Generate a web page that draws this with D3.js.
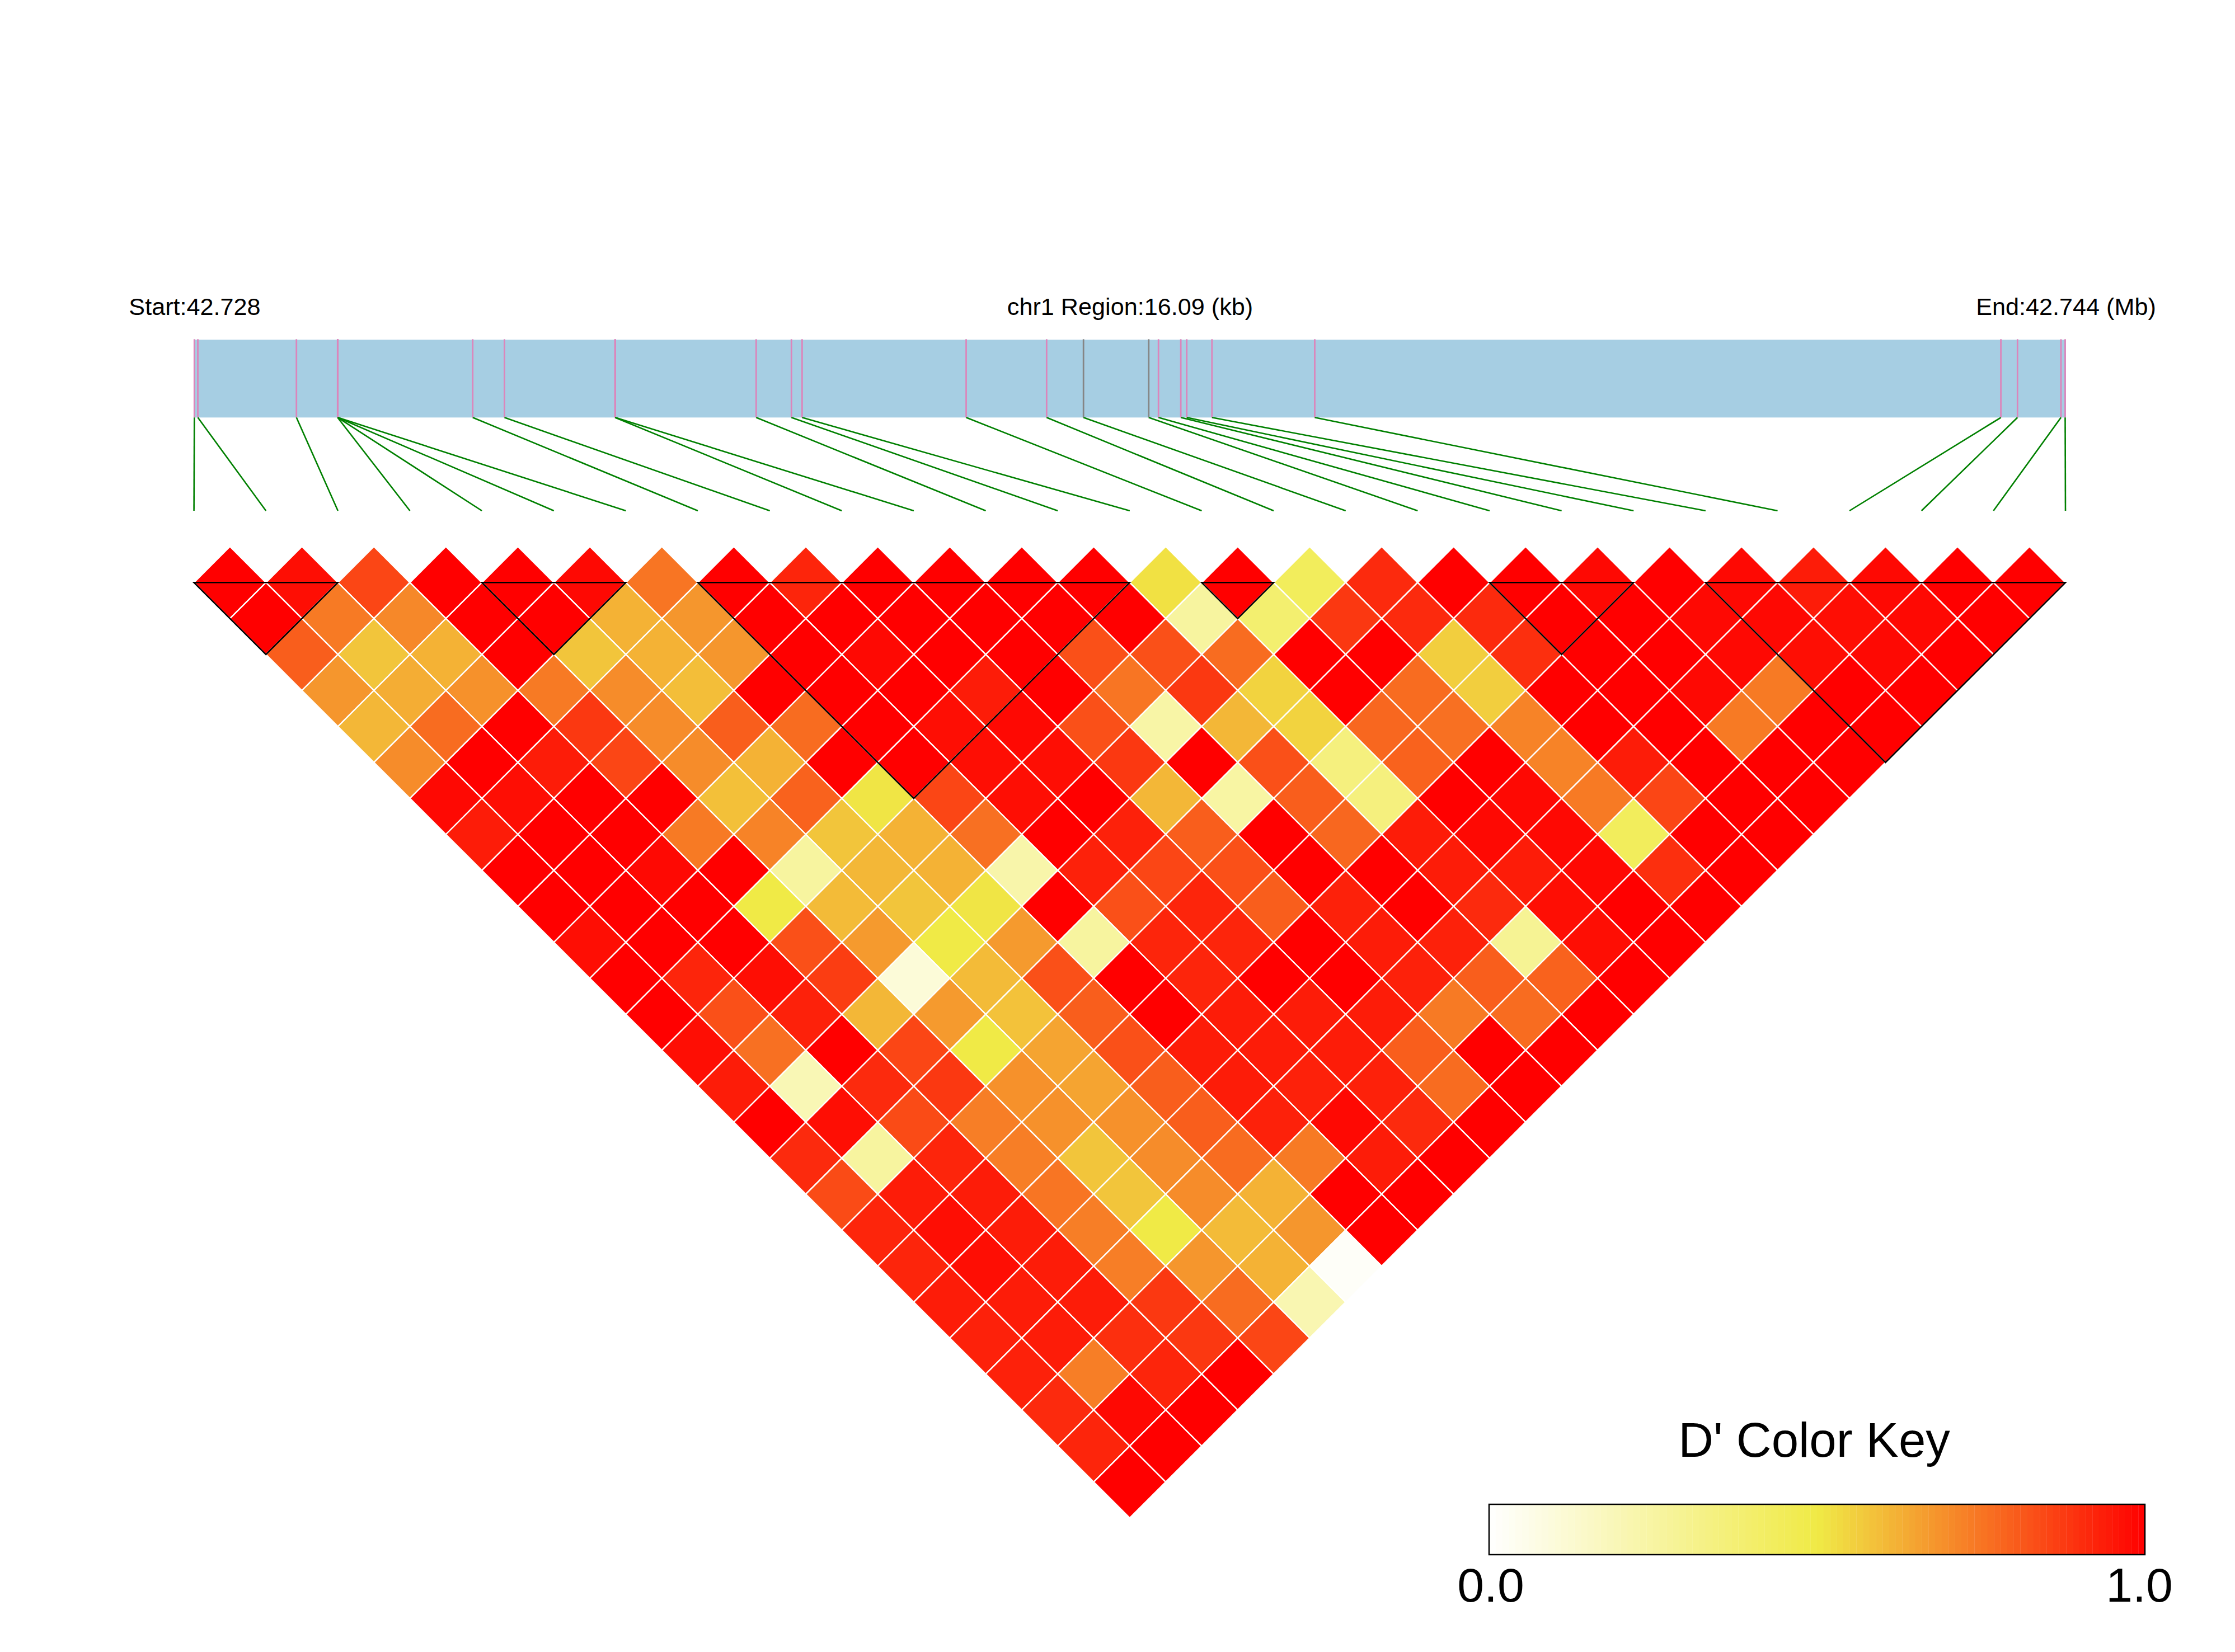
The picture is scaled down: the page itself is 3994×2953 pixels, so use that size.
<!DOCTYPE html>
<html><head><meta charset="utf-8">
<style>html,body{margin:0;padding:0;background:#fff}svg{display:block}text{font-family:"Liberation Sans",Arial,sans-serif;fill:#000}</style>
<script src="https://cdn.jsdelivr.net/npm/d3@7"></script>
</head><body><div id="chart"></div>
<script>
// SNP offsets in bp from region start
const snpPositions = [0,30,878,1232,1233,1233,1234,2394,2667,3618,3620,4832,5135,5227,6638,7330,7647,8208,8292,8484,8535,8752,9636,15537,15680,16054,16090];
const greySnps = [16,17];
const regionLength = 16090;
// LD blocks: first and last SNP index
const blockStart = [0,4,7,14,18,21];
const blockEnd   = [2,6,13,15,20,26];
// D' values by SNP distance (row01 = neighbouring SNPs)
const row01=[1,.97,.85,1,1,.98,.75,1,.92,1,1,1,1,.52,1,.44,.91,1,1,.98,1,.98,.94,.98,1,1];
const row02=[1,.74,.71,1,1,.62,.68,1,1,1,1,1,1,.26,.39,.88,.91,.91,1,1,.98,.98,.97,.98,1];
const row03=[.80,.58,.62,1,.58,.62,.68,1,.98,1,1,.83,.83,.77,1,1,.56,.90,1,1,.98,.97,.98,1];
const row04=[.68,.63,.69,.74,.70,.595,1,1,1,.94,1,.75,.88,.55,1,.77,.56,1,1,.98,.74,1,1];
const row05=[.61,.77,1,.88,.70,.80,.77,1,.97,.98,.83,.24,.61,.55,.78,.76,.72,1,1,.74,1,1];
const row06=[.70,1,.94,.85,.70,.62,1,1,.97,.97,.88,1,.83,.35,.79,1,.72,.94,1,1,1];
const row07=[.98,.97,1,1,.59,.79,.51,.85,.97,1,.61,.25,.80,.35,1,.98,.74,.85,1,1];
const row08=[.94,1,1,.74,.72,.58,.62,.76,1,.93,.80,1,.78,.94,.98,.98,.44,1,1];
const row09=[1,1,.98,1,.26,.61,.62,.23,.93,.85,.83,1,1,.94,.94,.98,.90,1];
const row10=[1,1,1,.5,.60,.58,.51,1,.83,.92,.80,.93,1,.91,.97,1,1];
const row11=[.97,1,1,.83,.67,.5,.67,.26,.92,.92,1,.94,.93,.29,.97,1];
const row12=[1,.92,.97,.87,.105,.60,.83,1,.92,1,1,.93,.80,.79,1];
const row13=[1,.83,.93,.61,.67,.585,.80,1,.94,.94,.94,.74,.77,1];
const row14=[.97,.76,1,.85,.5,.65,.83,.94,.94,.94,.80,1,1];
const row15=[.94,.20,.91,.88,.69,.65,.80,.94,.93,.93,.77,1];
const row16=[1,.97,.84,.73,.69,.69,.80,.93,.98,.91,1];
const row17=[.91,.26,.92,.73,.58,.70,.77,.74,.94,1];
const row18=[.84,.94,.94,.75,.58,.70,.62,1,1];
const row19=[.92,.97,.94,.73,.5,.60,.68,1];
const row20=[.92,.97,.94,.73,.68,.62,.02];
const row21=[.94,.94,.94,.88,.77,.21];
const row22=[.93,.94,.90,.88,.85];
const row23=[.93,.73,.92,1];
const row24=[.91,.98,1];
const row25=[.92,1];
const row26=[1];
const rows=[row01,row02,row03,row04,row05,row06,row07,row08,row09,row10,row11,row12,row13,row14,row15,row16,row17,row18,row19,row20,row21,row22,row23,row24,row25,row26];
const labelStart="Start:42.728", labelMid="chr1 Region:16.09 (kb)", labelEnd="End:42.744 (Mb)";
const keyTitle="D' Color Key", keyLow="0.0", keyHigh="1.0";

const W=3994,H=2953;
const svg=d3.select("#chart").append("svg").attr("width",W).attr("height",H).attr("viewBox",`0 0 ${W} ${H}`);
svg.append("rect").attr("width",W).attr("height",H).attr("fill","#fff");

const color=d3.scaleLinear().domain([0,.5,1]).range(["#ffffff","#f0ea46","#ff0000"]);
const xSnp=d3.scaleLinear().domain([0,26]).range([346.6,3691]);
const yRow=d3.scaleLinear().domain([0,26]).range([1041.3,2713.4]);
const xPos=d3.scaleLinear().domain([0,regionLength]).range([347.3,3690.5]);
const yBarTop=607.3,yBarBot=746.3,yLinkEnd=913;

// titles
const ty=563;
[[labelStart,348],[labelMid,2019.5],[labelEnd,3692]].forEach(([t,x])=>{
  svg.append("text").attr("x",x).attr("y",ty).attr("text-anchor","middle").attr("font-size",43.2).text(t);
});

// gene bar
svg.append("rect").attr("x",xPos(0)).attr("y",yBarTop).attr("width",xPos(regionLength)-xPos(0)+1).attr("height",yBarBot-yBarTop).attr("fill","#a6cee3");
svg.append("g").selectAll("line").data(snpPositions).join("line")
  .attr("x1",d=>xPos(d)).attr("x2",d=>xPos(d)).attr("y1",yBarTop-1).attr("y2",yBarBot)
  .attr("stroke",(d,i)=>greySnps.includes(i)?"#858585":"#dc85bb").attr("stroke-width",2.8);
// links
svg.append("g").selectAll("line").data(snpPositions).join("line")
  .attr("x1",d=>xPos(d)).attr("y1",yBarBot).attr("x2",(d,i)=>xSnp(i)).attr("y2",yLinkEnd)
  .attr("stroke","#008000").attr("stroke-width",2.6);

// cells
const halfW=xSnp(.5)-xSnp(0), halfH=yRow(1)-yRow(0);
const cells=rows.flatMap((r,di)=>r.map((v,i)=>({v,k:i+(di+1)/2,row:di})));
svg.append("g").selectAll("path").data(cells).join("path")
  .attr("d",c=>{const x=xSnp(c.k),y=yRow(c.row);
    return `M${x},${y-halfH}L${x+halfW},${y}L${x},${y+halfH}L${x-halfW},${y}Z`;})
  .attr("fill",c=>color(c.v)).attr("stroke","#fff").attr("stroke-width",2.4);

// LD blocks
svg.append("g").selectAll("path").data(blockStart.map((s,i)=>[s,blockEnd[i]])).join("path")
  .attr("d",([a,b])=>`M${xSnp(a)},${yRow(0)}L${xSnp(b)},${yRow(0)}L${xSnp((a+b)/2)},${yRow(b-a)}Z`)
  .attr("fill","none").attr("stroke","#000").attr("stroke-width",2.6).attr("stroke-linejoin","miter");

// colour key
const keyX=d3.scaleLinear().domain([0,1]).range([2661,3833]);
const keySteps=d3.range(100);
svg.append("g").selectAll("rect").data(keySteps).join("rect")
  .attr("x",d=>keyX(d/100)).attr("y",2689).attr("width",keyX(.01)-keyX(0)+.3).attr("height",90)
  .attr("fill",d=>color((d+.5)/100));
svg.append("rect").attr("x",keyX(0)).attr("y",2689).attr("width",keyX(1)-keyX(0)).attr("height",90).attr("fill","none").attr("stroke","#000").attr("stroke-width",2.5);
svg.append("text").attr("x",3242).attr("y",2604).attr("text-anchor","middle").attr("font-size",87).text(keyTitle);
svg.append("text").attr("x",keyX(0)+3).attr("y",2863).attr("text-anchor","middle").attr("font-size",86).text(keyLow);
svg.append("text").attr("x",keyX(1)-10).attr("y",2863).attr("text-anchor","middle").attr("font-size",86).text(keyHigh);
</script></body></html>
